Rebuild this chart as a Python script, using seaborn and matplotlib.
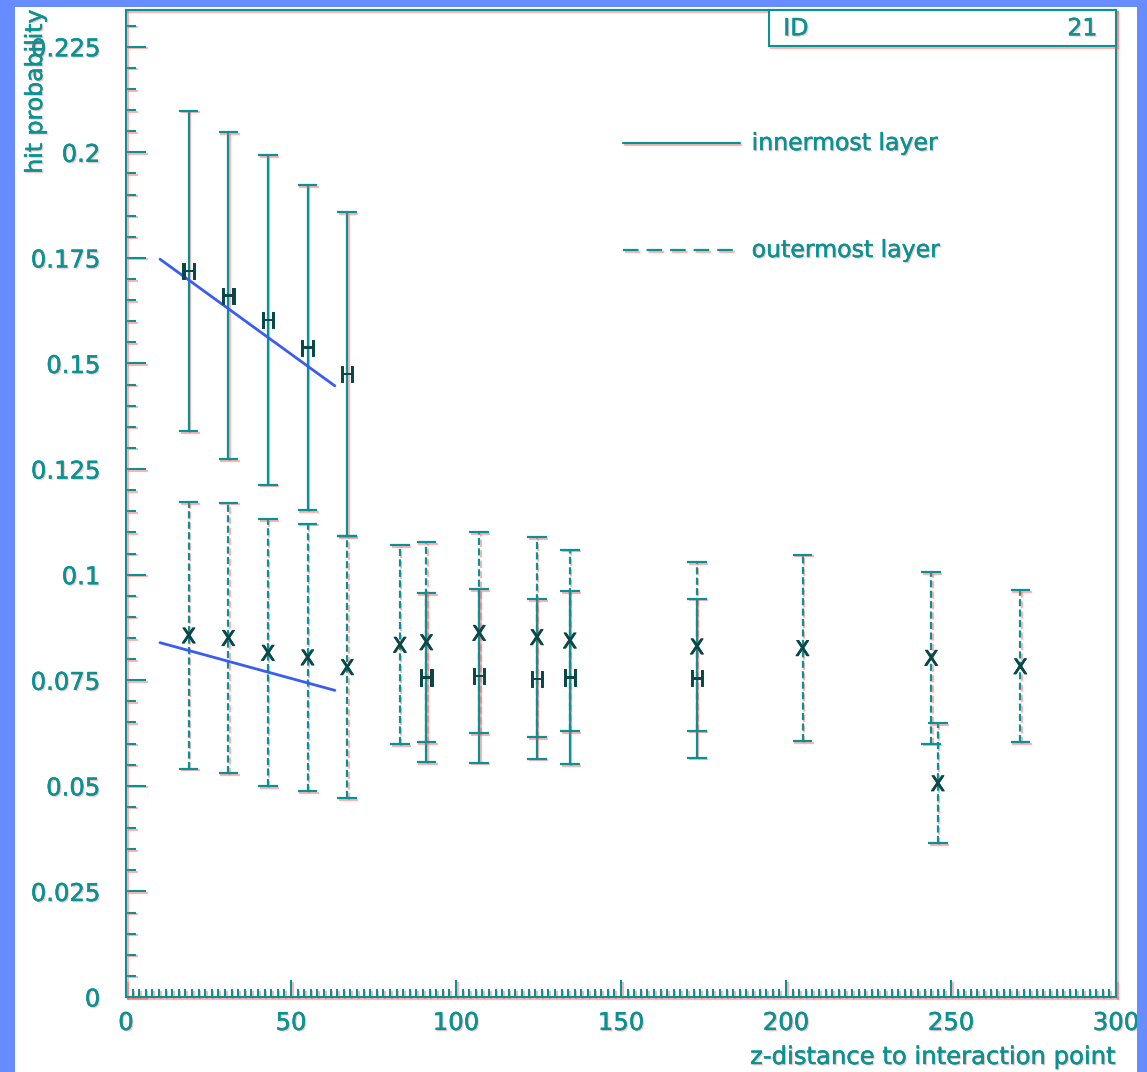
import numpy as np
import pandas as pd
import matplotlib
matplotlib.use("Agg")
import matplotlib.pyplot as plt
import matplotlib.patheffects as pe
from matplotlib.patches import Rectangle
from matplotlib.ticker import MultipleLocator, FuncFormatter
import seaborn as sns

# ---------------- data ----------------
inner_z = [19, 31, 43, 55, 67, 91, 107, 124.5, 134.5, 173]
inner_p = [0.1719, 0.1660, 0.1603, 0.1537, 0.1475, 0.0756, 0.0760, 0.0753, 0.0756, 0.0755]
inner_err = [0.0380, 0.0387, 0.0390, 0.0385, 0.0383, 0.0200, 0.0205, 0.0189, 0.0205, 0.0188]

outer_z = [19, 31, 43, 55, 67, 83, 91, 107, 124.5, 134.5, 173, 205, 244, 246, 271]
outer_p = [0.0856, 0.0850, 0.0815, 0.0804, 0.0781, 0.0834, 0.0840, 0.0862, 0.0852,
           0.0844, 0.0830, 0.0826, 0.0803, 0.0506, 0.0783]
outer_err = [0.0315, 0.0320, 0.0316, 0.0317, 0.0310, 0.0236, 0.0237, 0.0238, 0.0237,
             0.0215, 0.0199, 0.0221, 0.0203, 0.0142, 0.0180]

fit_z = [10.3, 63.3]
fit_inner = [0.1747, 0.1447]
fit_outer = [0.0839, 0.0726]

legend_labels = ["innermost layer", "outermost layer"]
hist_id = "21"

# ---------------- style ----------------
sns.set_theme(style="white")
plt.rcParams['font.family'] = ['DejaVu Sans']

TEAL = "#079393"
DARK = "#0b4747"
BLUE = "#3a5cf0"
FRAME_BLUE = "#668cff"
SHADOW = "#ff5a5a"

line_pe = [pe.SimpleLineShadow(offset=(1.1, -1.1), shadow_color=SHADOW, alpha=0.45),
           pe.Normal()]
text_pe = [pe.SimplePatchShadow(offset=(1.0, -1.0), shadow_rgbFace=SHADOW, alpha=0.35),
           pe.Stroke(linewidth=0.35, foreground=TEAL), pe.Normal()]
mark_pe = [pe.Stroke(linewidth=0.7, foreground=DARK), pe.Normal()]

W, H = 1147, 1072
fig = plt.figure(figsize=(W / 100, H / 100), dpi=100)
fig.patch.set_facecolor("white")

ax = fig.add_axes([126 / W, 75 / H, (1116 - 126) / W, 987 / H])
ax.set_facecolor("white")

# ---------------- error bars ----------------
eb_in = ax.errorbar(inner_z, inner_p, yerr=inner_err, fmt='none', ecolor=TEAL,
                    elinewidth=1.6, capsize=7, capthick=1.6, zorder=2)
eb_out = ax.errorbar(outer_z, outer_p, yerr=outer_err, fmt='none', ecolor=TEAL,
                     elinewidth=1.6, capsize=7, capthick=1.6, zorder=2)
for lc in eb_out[2]:
    lc.set_linestyle((0, (3.2, 1.5)))
for eb in (eb_in, eb_out):
    for c in eb[1]:
        c.set_path_effects(line_pe)
    for lc in eb[2]:
        lc.set_path_effects(line_pe)

# ---------------- fit lines ----------------
fit_df = pd.DataFrame({"z": fit_z * 2, "p": fit_inner + fit_outer,
                       "layer": ["inner"] * 2 + ["outer"] * 2})
sns.lineplot(data=fit_df, x="z", y="p", units="layer", estimator=None,
             color=BLUE, lw=2.0, ax=ax, zorder=3, legend=False)

# ---------------- markers ----------------
sns.scatterplot(x=inner_z, y=inner_p, marker=r'$\mathsf{H}$', s=140, color=DARK,
                linewidth=0, ax=ax, zorder=4, legend=False)
sns.scatterplot(x=outer_z, y=outer_p, marker=r'$\mathsf{X}$', s=120, color=DARK,
                linewidth=0, ax=ax, zorder=4, legend=False)
for coll in ax.collections[-2:]:
    coll.set_path_effects(mark_pe)

# ---------------- axes ----------------
ax.set_xlim(0, 300)
ax.set_ylim(0, 0.2337)
ax.xaxis.set_major_locator(MultipleLocator(50))
ax.xaxis.set_minor_locator(MultipleLocator(2))
ax.yaxis.set_major_locator(MultipleLocator(0.025))
ax.yaxis.set_minor_locator(MultipleLocator(0.005))
ax.yaxis.set_major_formatter(FuncFormatter(lambda v, p: f"{v:g}" if v > 1e-9 else "0"))
ax.xaxis.set_major_formatter(FuncFormatter(lambda v, p: f"{v:g}"))
ax.set_xlabel("")
ax.set_ylabel("")
ax.grid(False)

ax.tick_params(which='both', direction='in', color=TEAL, width=1.5,
               left=True, bottom=True, top=False, right=False,
               labelcolor=TEAL, labelsize=17.5)
ax.tick_params(axis='y', which='major', length=14.4, pad=18.5)
ax.tick_params(axis='y', which='minor', length=7.5)
ax.tick_params(axis='x', which='major', length=12, pad=10)
ax.tick_params(axis='x', which='minor', length=5.5)

for s in ax.spines.values():
    s.set_visible(True)
    s.set_color(TEAL)
    s.set_linewidth(1.5)
    s.set_path_effects(line_pe)

for axis in (ax.xaxis, ax.yaxis):
    for t in axis.get_major_ticks() + axis.get_minor_ticks():
        t.tick1line.set_path_effects(line_pe)
        t.label1.set_path_effects(text_pe)

# ---------------- legend (drawn as in the original) ----------------
ax.plot([0.502, 0.620], [0.8652, 0.8652], transform=ax.transAxes, color=TEAL,
        lw=1.6, path_effects=line_pe, clip_on=False)
ax.plot([0.502, 0.615], [0.7568, 0.7568], transform=ax.transAxes, color=TEAL,
        lw=1.6, ls=(0, (7.0, 3.6)), path_effects=line_pe, clip_on=False)
ax.text(0.632, 0.8652, legend_labels[0], transform=ax.transAxes, ha='left',
        va='center', fontsize=17, color=TEAL, path_effects=text_pe)
ax.text(0.632, 0.7568, legend_labels[1], transform=ax.transAxes, ha='left',
        va='center', fontsize=17, color=TEAL, path_effects=text_pe)

# ---------------- ID box ----------------
box = Rectangle((0.6495, 0.9635), 0.3505, 0.0365, transform=ax.transAxes,
                facecolor='white', edgecolor=TEAL, lw=1.5, clip_on=False, zorder=6,
                path_effects=line_pe)
ax.add_patch(box)
ax.text(0.664, 0.9815, "ID", transform=ax.transAxes, ha='left', va='center',
        fontsize=17, color=TEAL, zorder=7, path_effects=text_pe)
ax.text(0.981, 0.9815, hist_id, transform=ax.transAxes, ha='right', va='center',
        fontsize=17, color=TEAL, zorder=7, path_effects=text_pe)

# ---------------- axis titles ----------------
fig.text(35 / W, 1 - 9 / H, "hit probability", rotation=90, ha='center', va='top',
         fontsize=17, color=TEAL, path_effects=text_pe)
fig.text(1115 / W, 1 - 1057 / H, "z-distance to interaction point", ha='right',
         va='center', fontsize=17.5, color=TEAL, path_effects=text_pe)

# ---------------- blue frame ----------------
for (x0, y0, w, h) in [(0, 0, 15, H), (0, 0, W, 7), (1137, 0, W - 1137, H)]:
    fig.patches.append(Rectangle((x0 / W, 1 - (y0 + h) / H), w / W, h / H,
                                 transform=fig.transFigure, facecolor=FRAME_BLUE,
                                 edgecolor='none', zorder=100))

fig.savefig("out.png", dpi=100, facecolor=fig.get_facecolor())
